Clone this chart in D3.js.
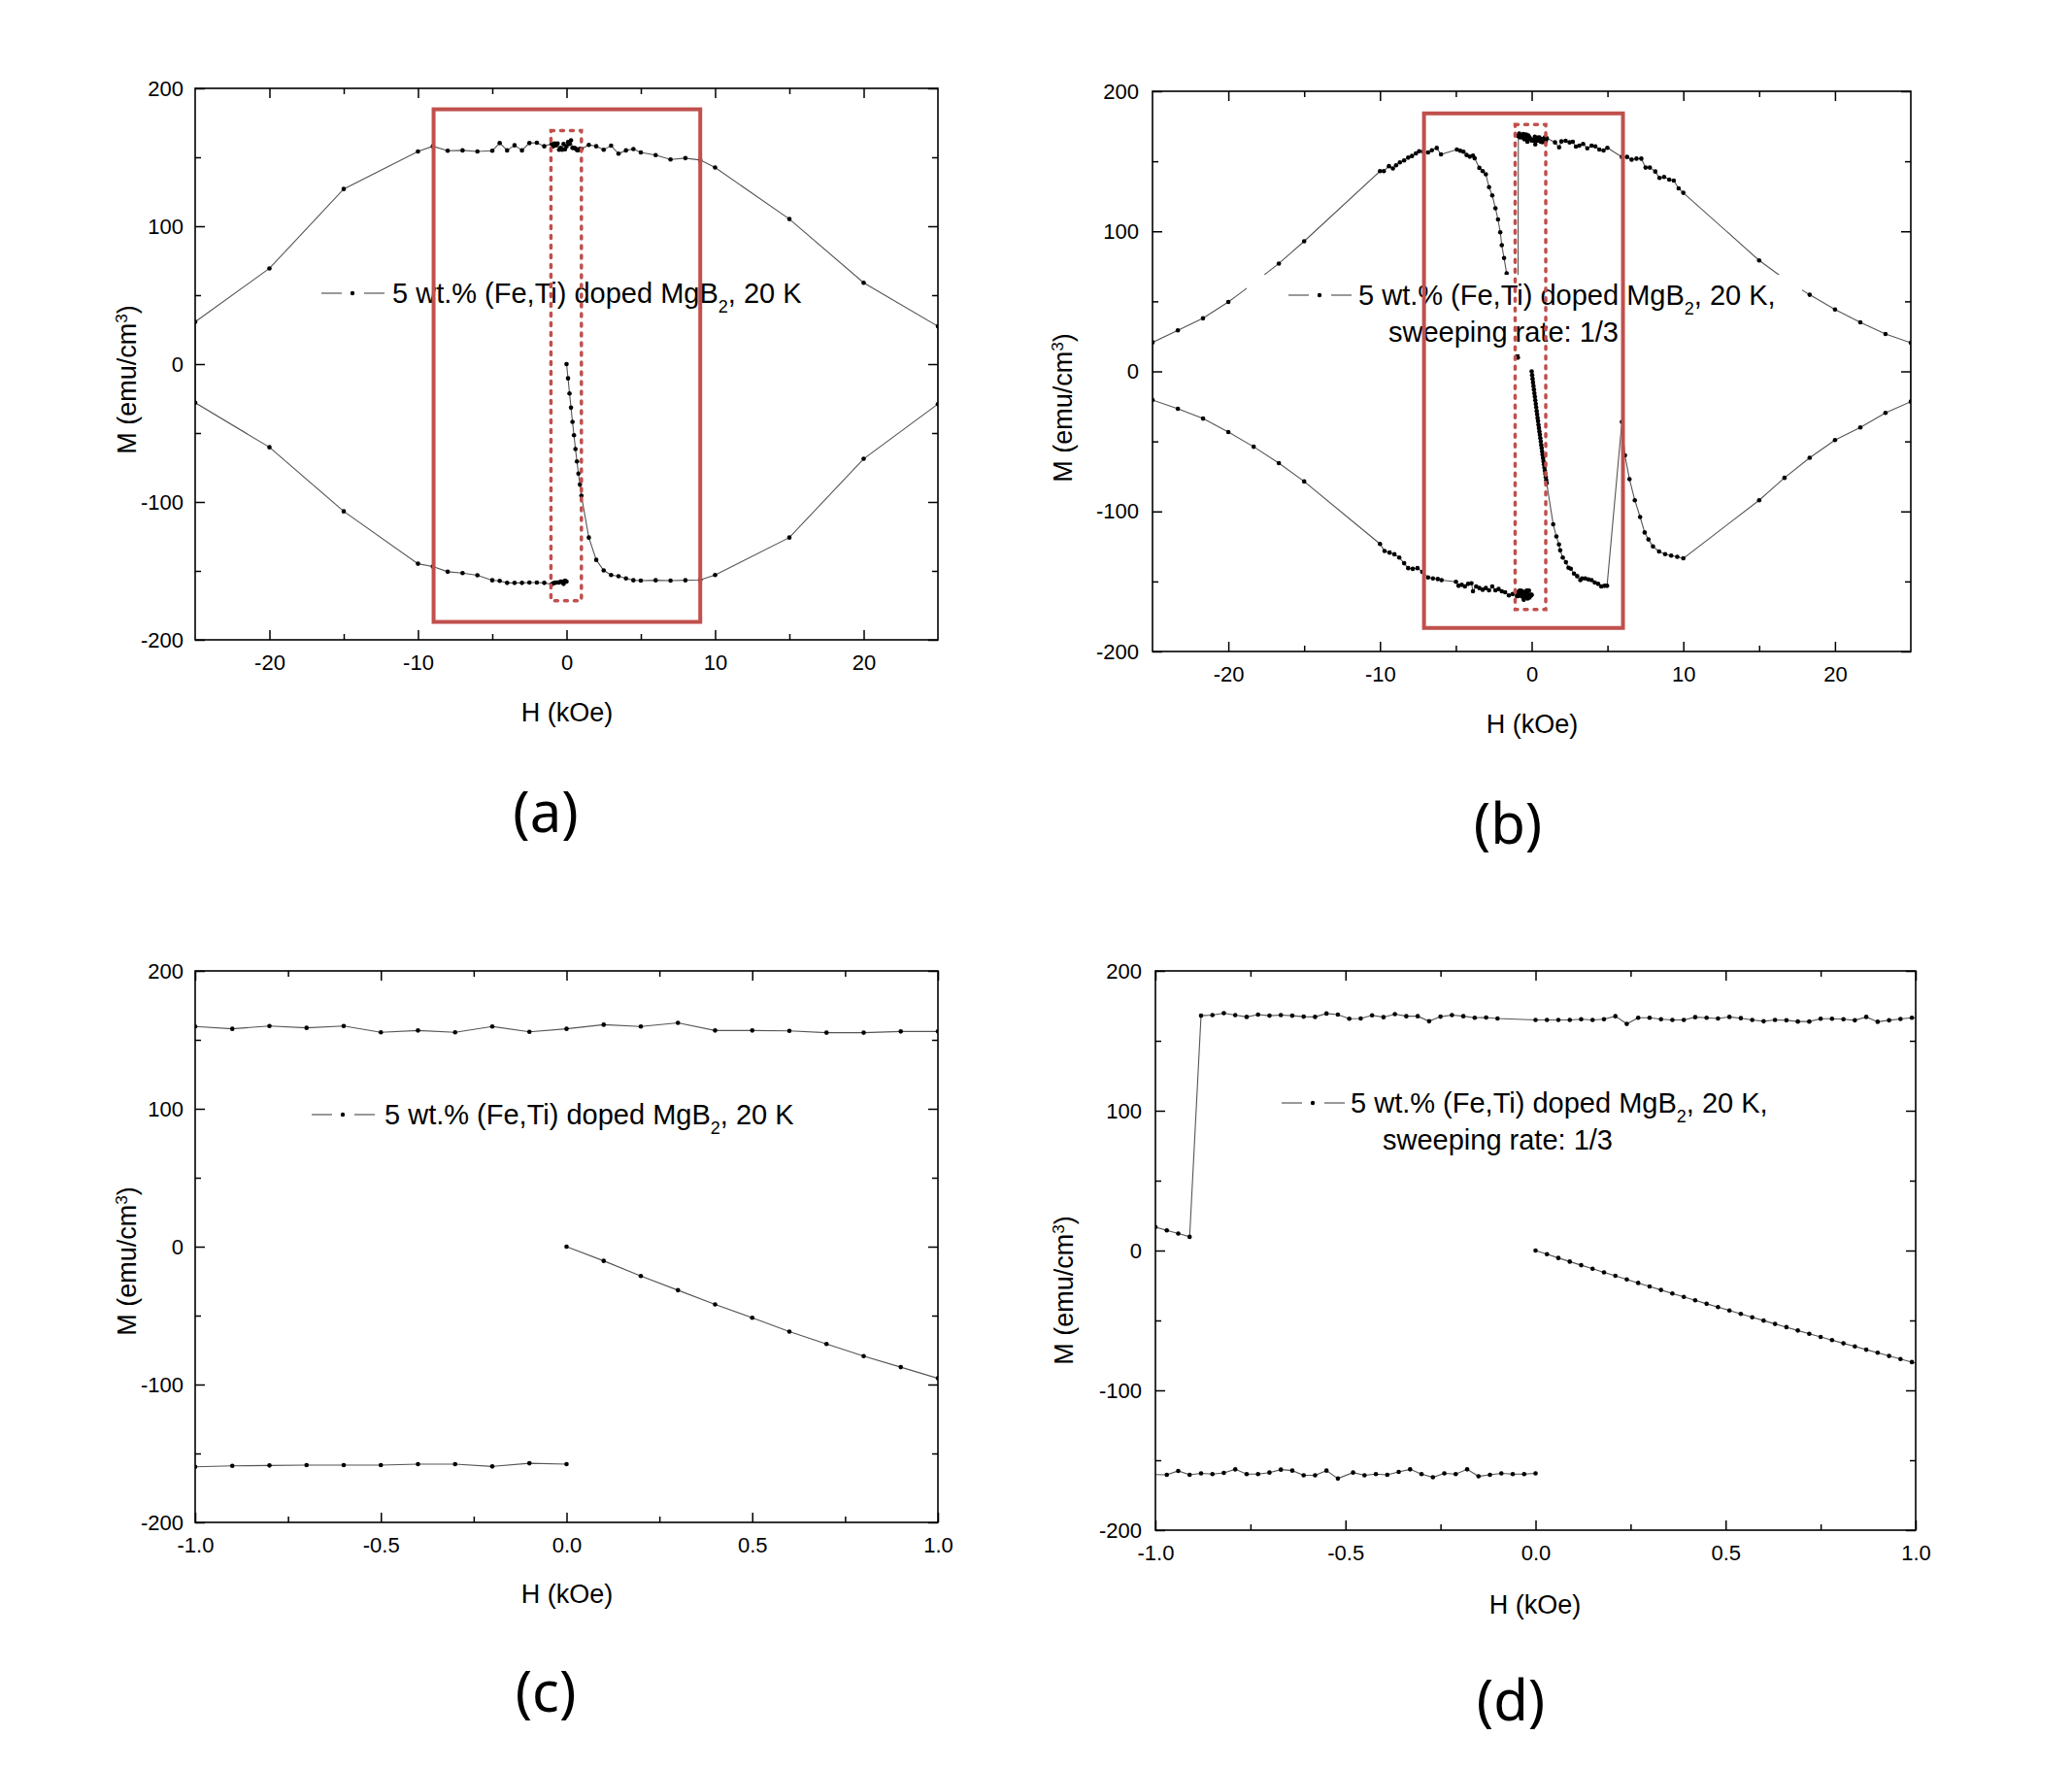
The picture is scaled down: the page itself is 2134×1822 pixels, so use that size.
<!DOCTYPE html>
<html lang="en">
<head>
<meta charset="UTF-8">
<title>M-H loops, 5 wt.% (Fe,Ti) doped MgB2</title>
<script src="https://cdn.jsdelivr.net/npm/d3@7"></script>
<style>
    body { margin: 0; background: #fff; }
    svg { display: block; font-family: "Liberation Sans", Arial, sans-serif; }
    .tick text { font-size: 22px; fill: #000; font-family: "Liberation Sans", Arial, sans-serif; }
    .tick line { stroke: #000; stroke-width: 1.5; }
</style>
</head>
<body>
<svg width="2134" height="1822"></svg>
<script>
    // ---- sample swept at normal rate (panels a and c) ----
    // virgin branch 0 -> 25 kOe
    var aVirginH = [0, 0.1, 0.2, 0.3, 0.4, 0.5, 0.6, 0.7, 0.8, 0.9, 1.0, 1.5, 2, 2.5, 3, 3.5, 4, 4.5, 5, 6, 7, 8, 9, 10, 15, 20, 25];
    var aVirginM = [0, -10.3, -21.3, -31.6, -41.9, -51.6, -61.6, -70.6, -79.4, -87.4, -95.5, -125.8, -142, -149.7, -153, -153.9, -155.5, -156.8, -157, -156.8, -157, -156.8, -156.5, -153, -125.8, -68.7, -29];
    // descending branch 25 -> -25 kOe (listed with H increasing)
    var aDescH = [-25, -20, -15, -10, -9, -8, -7, -6, -5, -4.5, -4, -3.5, -3, -2.5, -2, -1.5,
        -1.0, -0.9, -0.8, -0.7, -0.6, -0.5, -0.4, -0.3, -0.2, -0.1, 0, 0.1, 0.2, 0.3, 0.4, 0.5, 0.6, 0.7, 0.8, 0.9, 1.0,
        1.5, 2, 2.5, 3, 3.5, 4, 4.5, 5, 6, 7, 8, 9, 10, 15, 20, 25];
    var aDescM = [30.6, 69.4, 127, 154.2, 158, 154.8, 155, 154.2, 154.8, 160.3, 155, 158.7, 155, 160.3, 160.6, 158,
        159.7, 158, 160, 158.7, 160, 155.5, 156.8, 155.5, 159.7, 155.8, 158, 161, 159.7, 162.3, 156.8, 156.8, 156.5, 155.2, 155.2, 156.1, 156.1,
        159, 158, 155.5, 158.4, 152.6, 155, 156, 153.5, 151.6, 148.4, 149.4, 148, 142.6, 105.2, 59, 27.4];
    // ascending branch -25 -> 0 kOe
    var aAscH = [-25, -20, -15, -10, -9, -8, -7, -6, -5, -4.5, -4, -3.5, -3, -2.5, -2, -1.5,
        -1.0, -0.9, -0.8, -0.7, -0.6, -0.5, -0.4, -0.3, -0.2, -0.1, 0];
    var aAscM = [-28, -60.3, -106.8, -144.8, -146.8, -150.6, -151.6, -153.2, -156.8, -157.2, -158.7, -158.7, -158.7, -158.4, -158.4, -158.7,
        -159.7, -159, -158.7, -158.4, -158.4, -158.4, -157.7, -157.7, -159.4, -157.1, -157.7];

    // ---- sample swept at 1/3 rate (panels b and d) ----
    var bVirginH = [0, 0.03, 0.06, 0.09, 0.12, 0.15, 0.18, 0.21, 0.24, 0.27, 0.30, 0.33, 0.36, 0.39, 0.42, 0.45, 0.48,
        0.51, 0.54, 0.57, 0.60, 0.63, 0.66, 0.69, 0.72, 0.75, 0.78, 0.81, 0.84, 0.87, 0.90, 0.93, 0.96, 0.99,
        1.42, 1.63, 1.80, 1.88, 2.05, 2.26, 2.43, 2.58, 2.79, 3.00, 3.21, 3.32, 3.53, 3.74, 3.95, 4.16, 4.38, 4.59, 4.80, 4.97,
        5.95, 6.15, 6.45, 6.80, 7.15, 7.45, 7.70, 8.00, 8.40, 8.80, 9.20, 9.60, 10.0,
        15.0, 16.67, 18.33, 20.0, 21.67, 23.33, 25.0];
    var bVirginM = [0, -2.6, -5.3, -7.9, -10.5, -13.0, -15.6, -18.1, -20.7, -23.2, -25.7, -28.2, -30.7, -33.2, -35.6, -38.1, -40.5,
        -42.9, -45.3, -47.7, -50.1, -52.5, -54.8, -57.2, -59.5, -61.8, -64.1, -66.4, -68.6, -70.9, -73.1, -75.4, -77.6, -79.8,
        -109.2, -117.9, -123.6, -127.8, -132.9, -136.3, -140.2, -140.9, -144.4, -146.2, -149.0, -147.8, -147.8, -148.5, -149.0, -150.8, -151.7, -153.6, -153.1, -153.1,
        -36, -60, -77, -92, -104, -115, -120, -125, -128.6, -130.5, -131.5, -132.4, -133.5,
        -92, -76, -61.7, -49, -40, -29.6, -21.6];
    var bDescH = [-25, -23.33, -21.67, -20, -18.33, -16.67, -15,
        -10.0, -9.75, -9.41, -9.15, -8.94, -8.69, -8.41, -8.14, -7.89, -7.63, -7.42, -7.15, -6.83, -6.58, -6.26, -5.98,
        -4.93, -4.71, -4.50, -4.29, -4.08, -3.87, -3.76, -3.45, -3.23, -3.02, -2.81, -2.60, -2.39, -2.22, -2.07, -1.97, -1.82, -1.65,
        -1.40, -1.20, -1.00, -0.97, -0.94, -0.91,
        -0.88, -0.85, -0.82, -0.79, -0.76, -0.73, -0.70, -0.67, -0.64, -0.61, -0.58, -0.55, -0.52, -0.49,
        -0.46, -0.43, -0.40, -0.37, -0.34, -0.31, -0.28, -0.25, -0.22, -0.19, -0.16, -0.13, -0.10,
        0, 0.03, 0.06, 0.09, 0.12, 0.15, 0.18, 0.21, 0.24, 0.27, 0.30, 0.33, 0.36, 0.39, 0.42, 0.45, 0.48,
        0.51, 0.54, 0.57, 0.60, 0.63, 0.66, 0.69, 0.72, 0.75, 0.78, 0.81, 0.84, 0.87, 0.90, 0.93, 0.96, 0.99,
        1.54, 1.81, 1.96, 2.24, 2.50, 2.71, 2.92, 3.14, 3.39, 3.67, 3.95, 4.20, 4.46, 4.74, 4.99,
        5.95, 6.29, 6.59, 6.91, 7.23, 7.51, 7.79, 8.15, 8.43, 8.73, 9.07, 9.37, 9.69, 10.0,
        15, 16.67, 18.33, 20, 21.67, 23.33, 25];
    var bDescM = [20.7, 29.3, 37.9, 49.6, 63, 77, 92.9,
        143.0, 143.0, 146.5, 144.9, 147.1, 149.2, 150.6, 152.6, 153.8, 155.6, 157.2, 156.8, 156.3, 157.9, 159.5, 154.9,
        158.4, 157.5, 156.8, 154.5, 153.3, 154.0, 152.2, 145.3, 143.0, 140.7, 131.5, 125.7, 116.5, 108.5, 99.3, 90.1, 80.9, 69.9,
        50, 33, 16.8, 14.4, 12.2, 9.8,
        168.0, 168.4, 169.8, 168.4, 167.1, 168.7, 168.0, 168.4, 168.0, 167.3, 167.1, 169.5, 168.7, 165.8,
        166.0, 168.2, 166.9, 169.1, 167.6, 167.6, 164.0, 167.3, 168.4, 167.6, 166.5, 166.7, 166.0,
        164.9, 164.9, 164.9, 164.9, 165.4, 164.9, 165.4, 167.6, 162.1, 166.5, 166.5, 165.4, 164.9, 164.9, 166.9, 166.5, 166.0,
        167.1, 166.2, 164.9, 164.0, 164.9, 164.7, 163.8, 163.8, 165.8, 165.8, 165.4, 164.7, 167.1, 163.6, 164.7, 165.6, 166.5,
        163.5, 160.0, 164.2, 164.6, 163.5, 163.9, 160.5, 161.2, 162.4, 159.3, 161.2, 160.7, 158.4, 157.7, 159.6,
        153.1, 153.1, 151.2, 151.9, 151.9, 145.5, 145.5, 142.7, 138.1, 138.8, 136.9, 136.2, 130.7, 127.5,
        79.2, 66, 54.7, 44.2, 35, 26.7, 20.4];
    var bAscH = [-25, -23.33, -21.67, -20, -18.33, -16.67, -15,
        -10.0, -9.70, -9.37, -9.05, -8.73, -8.41, -8.14, -7.84, -7.53, -7.21, -6.83, -6.51, -6.19, -5.94,
        -4.99, -4.82, -4.61, -4.40, -4.19, -3.97, -3.87, -3.66, -3.45, -3.23, -3.02, -2.81, -2.60, -2.39, -2.18, -1.97, -1.75, -1.50,
        -1.25,
        -0.97, -0.94, -0.91, -0.88, -0.85, -0.82, -0.79, -0.76, -0.73, -0.70, -0.67, -0.64, -0.61, -0.58, -0.55, -0.52,
        -0.48, -0.45, -0.42, -0.39, -0.36, -0.33, -0.30, -0.27, -0.24, -0.21, -0.18, -0.15, -0.12, -0.09, -0.06, -0.03, 0.0];
    var bAscM = [-20.4, -26.7, -33.7, -43.3, -53.8, -65.5, -78.6,
        -123.2, -128.3, -129.4, -130.6, -132.9, -137.0, -140.5, -141.0, -140.5, -143.2, -147.1, -147.8, -148.3, -149.0,
        -150.3, -153.1, -152.4, -153.6, -151.7, -151.3, -157.0, -153.6, -154.7, -155.9, -154.7, -156.3, -153.6, -156.3, -155.4, -157.0, -157.7, -160.0,
        -159.0,
        -160.4, -157.6, -160.4, -159.4, -159.9, -159.0, -156.5, -159.9, -159.9, -158.8, -156.7, -157.4, -160.8, -160.8, -157.4, -163.1,
        -158.8, -160.8, -159.9, -160.4, -158.3, -156.5, -159.9, -162.2, -159.4, -159.9, -156.5, -161.5, -160.4, -159.4, -159.9, -159.9, -159.4];

    // tick labels
    var mTicks = [-200, -100, 0, 100, 200];
    var mMinor = [-150, -50, 50, 150];
    var wideTicks = [-20, -10, 0, 10, 20];
    var wideMinor = [-15, -5, 5, 15];
    var narrowTicks = [-1.0, -0.5, 0.0, 0.5, 1.0];
    var narrowMinor = [-0.75, -0.25, 0.25, 0.75];

    var legendLine1 = "5 wt.% (Fe,Ti) doped MgB";
    var legendLine2 = "sweeping rate: 1/3";

    function pairs(h, m) {
        return h.map(function (d, i) { return [d, m[i]]; });
    }

    // one continuous measurement: virgin, then down from +25, then up from -25
    var loopA = pairs(aVirginH, aVirginM).concat(pairs(aDescH, aDescM).reverse(), pairs(aAscH, aAscM));
    var loopB = pairs(bVirginH, bVirginM).concat(pairs(bDescH, bDescM).reverse(), pairs(bAscH, bAscM));

    var red = "#c0504d";

    var panels = [
        {key: "a", letter: "(a)", data: loopA, left: 201, top: 91, width: 765, height: 568,
            xDomain: [-25, 25], xTicks: wideTicks, xMinor: wideMinor, fmt: function (d) { return d; },
            yPad: 12, yLabelX: 140, yLabelY: 391, xLabelX: 584, xLabelY: 743, letterX: 562, letterY: 857,
            legend: {symX: 331, x: 404, y: 312, second: null},
            solid: [-8.95, 9.0, -187, 184.8], dotted: [-1.05, 1.0, -171.6, 169.4]},
        {key: "b", letter: "(b)", data: loopB, left: 1187, top: 94, width: 781, height: 577,
            xDomain: [-25, 25], xTicks: wideTicks, xMinor: wideMinor, fmt: function (d) { return d; },
            yPad: 14, yLabelX: 1104, yLabelY: 420, xLabelX: 1578, xLabelY: 755, letterX: 1553, letterY: 869,
            legend: {symX: 1327, x: 1399, y: 314, second: {x: 1430, y: 352}, box: [1284, 283, 572, 82]},
            solid: [-7.1, 6.02, -183.2, 184.2], dotted: [-1.09, 0.93, -170, 176.2]},
        {key: "c", letter: "(c)", data: loopA, left: 201, top: 1000, width: 765, height: 568,
            xDomain: [-1, 1], xTicks: narrowTicks, xMinor: narrowMinor, fmt: function (d) { return d.toFixed(1); },
            yPad: 12, yLabelX: 140, yLabelY: 1299, xLabelX: 584, xLabelY: 1651, letterX: 562, letterY: 1763,
            legend: {symX: 321, x: 396, y: 1158, second: null}},
        {key: "d", letter: "(d)", data: loopB, left: 1190, top: 1000, width: 783, height: 576,
            xDomain: [-1, 1], xTicks: narrowTicks, xMinor: narrowMinor, fmt: function (d) { return d.toFixed(1); },
            yPad: 14, yLabelX: 1105, yLabelY: 1329, xLabelX: 1581, xLabelY: 1662, letterX: 1556, letterY: 1772,
            legend: {symX: 1320, x: 1391, y: 1146, second: {x: 1424, y: 1184}}}
    ];

    var svg = d3.select("svg");
    svg.append("rect").attr("width", 2134).attr("height", 1822).attr("fill", "#fff");
    var defs = svg.append("defs");

    panels.forEach(function (p) {
        var x = d3.scaleLinear().domain(p.xDomain).range([p.left, p.left + p.width]);
        var y = d3.scaleLinear().domain([-200, 200]).range([p.top + p.height, p.top]);
        var g = svg.append("g");

        defs.append("clipPath").attr("id", "clip-" + p.key)
            .append("rect")
            .attr("x", p.left).attr("y", p.top)
            .attr("width", p.width).attr("height", p.height);

        var plot = g.append("g").attr("clip-path", "url(#clip-" + p.key + ")");
        var line = d3.line()
            .x(function (d) { return x(d[0]); })
            .y(function (d) { return y(d[1]); });
        plot.append("path")
            .datum(p.data)
            .attr("d", line)
            .attr("fill", "none")
            .attr("stroke", "#555")
            .attr("stroke-width", 1.1);
        var span = p.xDomain[1] - p.xDomain[0];
        plot.selectAll("circle")
            .data(p.data.filter(function (d) {
                return d[0] >= p.xDomain[0] - span * 0.01 && d[0] <= p.xDomain[1] + span * 0.01;
            }))
            .enter()
            .append("circle")
            .attr("cx", function (d) { return x(d[0]); })
            .attr("cy", function (d) { return y(d[1]); })
            .attr("r", 2.3)
            .attr("fill", "#000");

        // legend (b has a white frame that hides the curve behind it)
        var lg = p.legend;
        if (lg.box) {
            g.append("rect")
                .attr("x", lg.box[0]).attr("y", lg.box[1])
                .attr("width", lg.box[2]).attr("height", lg.box[3])
                .attr("fill", "#fff");
        }
        // symbol: short line, gap, dot, gap, short line
        [[0, 21], [44, 65]].forEach(function (seg) {
            g.append("line")
                .attr("x1", lg.symX + seg[0]).attr("x2", lg.symX + seg[1])
                .attr("y1", lg.y - 10).attr("y2", lg.y - 10)
                .attr("stroke", "#555").attr("stroke-width", 1.2);
        });
        g.append("circle")
            .attr("cx", lg.symX + 32).attr("cy", lg.y - 10)
            .attr("r", 2.2).attr("fill", "#000");
        var t = g.append("text")
            .attr("x", lg.x).attr("y", lg.y)
            .attr("font-size", 29);
        t.append("tspan").text(legendLine1);
        t.append("tspan").attr("baseline-shift", "sub").attr("font-size", 18).text("2");
        t.append("tspan").text(lg.second ? ", 20 K," : ", 20 K");
        if (lg.second) {
            g.append("text")
                .attr("x", lg.second.x).attr("y", lg.second.y)
                .attr("font-size", 29)
                .text(legendLine2);
        }

        // red marker boxes
        if (p.solid) {
            g.append("rect")
                .attr("x", x(p.solid[0])).attr("y", y(p.solid[3]))
                .attr("width", x(p.solid[1]) - x(p.solid[0]))
                .attr("height", y(p.solid[2]) - y(p.solid[3]))
                .attr("fill", "none").attr("stroke", red).attr("stroke-width", 4);
            g.append("rect")
                .attr("x", x(p.dotted[0])).attr("y", y(p.dotted[3]))
                .attr("width", x(p.dotted[1]) - x(p.dotted[0]))
                .attr("height", y(p.dotted[2]) - y(p.dotted[3]))
                .attr("fill", "none").attr("stroke", red).attr("stroke-width", 3.5)
                .attr("stroke-dasharray", "3,7").attr("stroke-linecap", "round");
        }

        // frame and inward ticks on four sides
        g.append("rect")
            .attr("x", p.left).attr("y", p.top)
            .attr("width", p.width).attr("height", p.height)
            .attr("fill", "none").attr("stroke", "#000").attr("stroke-width", 1.6);

        function addAxis(axis, tx, ty) {
            g.append("g")
                .attr("transform", "translate(" + tx + "," + ty + ")")
                .call(axis)
                .call(function (s) { s.select(".domain").remove(); });
        }
        var bottom = p.top + p.height, right = p.left + p.width;
        addAxis(d3.axisBottom(x).tickValues(p.xTicks).tickSize(-10).tickPadding(15).tickFormat(p.fmt), 0, bottom);
        addAxis(d3.axisBottom(x).tickValues(p.xMinor).tickSize(-6).tickFormat(""), 0, bottom);
        addAxis(d3.axisTop(x).tickValues(p.xTicks).tickSize(-10).tickFormat(""), 0, p.top);
        addAxis(d3.axisTop(x).tickValues(p.xMinor).tickSize(-6).tickFormat(""), 0, p.top);
        addAxis(d3.axisLeft(y).tickValues(mTicks).tickSize(-10).tickPadding(p.yPad).tickFormat(function (d) { return d; }), p.left, 0);
        addAxis(d3.axisLeft(y).tickValues(mMinor).tickSize(-6).tickFormat(""), p.left, 0);
        addAxis(d3.axisRight(y).tickValues(mTicks).tickSize(-10).tickFormat(""), right, 0);
        addAxis(d3.axisRight(y).tickValues(mMinor).tickSize(-6).tickFormat(""), right, 0);

        // axis titles
        g.append("text")
            .attr("x", p.xLabelX).attr("y", p.xLabelY)
            .attr("text-anchor", "middle")
            .attr("font-size", 27)
            .text("H (kOe)");
        var yl = g.append("text")
            .attr("x", p.yLabelX).attr("y", p.yLabelY)
            .attr("transform", "rotate(-90," + p.yLabelX + "," + p.yLabelY + ")")
            .attr("text-anchor", "middle")
            .attr("font-size", 27);
        yl.append("tspan").text("M (emu/cm");
        yl.append("tspan").attr("baseline-shift", "super").attr("font-size", 17).text("3");
        yl.append("tspan").text(")");

        // panel letter
        svg.append("text")
            .attr("x", p.letterX).attr("y", p.letterY)
            .attr("text-anchor", "middle")
            .attr("font-family", "'Noto Sans', sans-serif")
            .attr("font-size", 58)
            .text(p.letter);
    });
</script>
</body>
</html>
